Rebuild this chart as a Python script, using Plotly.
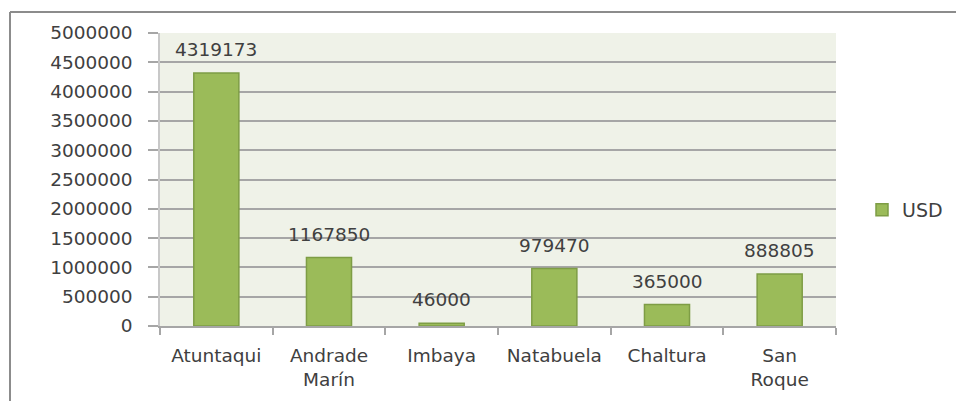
import plotly.graph_objects as go

# Investment per parish (USD)
parroquias = ["Atuntaqui", "Andrade<br>Marín", "Imbaya", "Natabuela", "Chaltura", "San<br>Roque"]
usd = [4319173, 1167850, 46000, 979470, 365000, 888805]
y_ticks = [0, 500000, 1000000, 1500000, 2000000, 2500000, 3000000, 3500000, 4000000, 4500000, 5000000]

W, H = 956, 401
L, R, T, B = 160, 120, 33, 75
pw, ph = W - L - R, H - T - B

FONT = "DejaVu Sans"
TXT = "#404040"
FS = 18.5

fig = go.Figure()
fig.add_trace(go.Bar(
    x=parroquias, y=usd, name="USD",
    marker=dict(color="#9BBB59", line=dict(color="#7E9D45", width=1.5)),
    width=0.4,
))

for cat, v in zip(parroquias, usd):
    fig.add_annotation(x=cat, y=v, text=str(v), showarrow=False,
                       yanchor="bottom", yshift=11,
                       font=dict(family=FONT, size=FS, color=TXT))

# outer frame lines (top and left)
def px_x(p):
    return (p - L) / pw

def px_y(p):
    return (H - B - p) / ph

fig.add_shape(type="line", xref="paper", yref="paper",
              x0=px_x(10), x1=px_x(956), y0=px_y(12), y1=px_y(12),
              line=dict(color="#8C8C8C", width=2))
fig.add_shape(type="line", xref="paper", yref="paper",
              x0=px_x(10), x1=px_x(10), y0=px_y(12), y1=px_y(401),
              line=dict(color="#8C8C8C", width=2))

fig.update_layout(
    width=W, height=H,
    margin=dict(l=L, r=R, t=T, b=B, pad=0, autoexpand=False),
    paper_bgcolor="white",
    plot_bgcolor="#EFF2E8",
    font=dict(family=FONT, size=FS, color=TXT),
    showlegend=True,
    legend=dict(x=px_x(862), y=px_y(210), xanchor="left", yanchor="middle",
                font=dict(family=FONT, size=19, color=TXT),
                itemwidth=30, bgcolor="rgba(0,0,0,0)"),
    bargap=0.6,
)
fig.update_xaxes(
    type="category", tickson="boundaries", ticks="outside", ticklen=7,
    tickcolor="#A6A6A6", tickwidth=1.5, showline=True, linecolor="#A6A6A6",
    linewidth=1.5, showgrid=False, ticklabelstandoff=12,
    tickfont=dict(family=FONT, size=FS, color=TXT),
)
fig.update_yaxes(
    range=[0, 5000000], tickvals=y_ticks, ticktext=[str(v) for v in y_ticks],
    ticks="outside", ticklen=10, tickcolor="#A6A6A6", tickwidth=1.5,
    showgrid=True, gridcolor="#A6A6A6", gridwidth=1.5,
    showline=True, linecolor="#C8C8C8", linewidth=1.5,
    zeroline=False, ticklabelstandoff=12,
    tickfont=dict(family=FONT, size=FS, color=TXT),
)

fig.write_html("out.html")
